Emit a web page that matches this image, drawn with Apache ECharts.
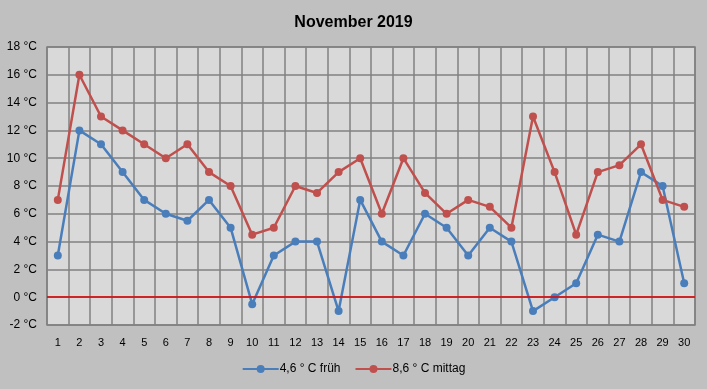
<!DOCTYPE html>
<html><head><meta charset="utf-8">
<script src="https://cdn.jsdelivr.net/npm/echarts@6/dist/echarts.min.js"></script>
<style>html,body{margin:0;padding:0;background:#c0c0c0;}#c{width:707px;height:389px;}</style>
</head><body><div id="c"></div>
<script>
var days = ['1','2','3','4','5','6','7','8','9','10','11','12','13','14','15','16','17','18','19','20','21','22','23','24','25','26','27','28','29','30'];
var frueh = [3,12,11,9,7,6,5.5,7,5,-0.5,3,4,4,-1,7,4,3,6,5,3,5,4,-1,0,1,4.5,4,9,8,1];
var mittag = [7,16,13,12,11,10,11,9,8,4.5,5,8,7.5,9,10,6,10,7.5,6,7,6.5,5,13,9,4.5,9,9.5,11,7,6.5];
var seriesNames = ['4,6 ° C früh', '8,6 ° C mittag'];
var title = 'November 2019';

var font = 'Liberation Sans, Arial, sans-serif';
var chart = echarts.init(document.getElementById('c'));
chart.setOption({
  backgroundColor: '#c0c0c0',
  animation: false,
  title: {text: title, left: 'center', top: 10, textStyle: {fontFamily: font, fontSize: 16, fontWeight: 'bold', color: '#000'}},
  legend: {bottom: 9, left: 'center', itemWidth: 36, itemHeight: 10, itemGap: 14,
    textStyle: {fontFamily: font, fontSize: 12, color: '#000', padding: [0,0,0,-4]},
    data: seriesNames},
  grid: {left: 47, right: 12, top: 47, bottom: 64, show: true, backgroundColor: '#d9d9d9', borderColor: '#808080', borderWidth: 1.5},
  xAxis: {type: 'category', data: days, boundaryGap: true,
    axisLine: {show: false}, axisTick: {show: false},
    axisLabel: {interval: 0, fontFamily: font, fontSize: 11, color: '#000', margin: 12},
    splitLine: {show: true, interval: 0, lineStyle: {color: '#808080', width: 1.5}}},
  yAxis: {type: 'value', min: -2, max: 18, interval: 2,
    axisLine: {show: false}, axisTick: {show: false},
    axisLabel: {fontFamily: font, fontSize: 12, color: '#000', margin: 10, formatter: function(v){return v + ' °C';}},
    splitLine: {show: true, lineStyle: {color: '#808080', width: 1.5}}},
  series: [
    {name: seriesNames[0], type: 'line', data: frueh, symbol: 'circle', symbolSize: 8,
      itemStyle: {color: '#4a7ebb'}, lineStyle: {color: '#4a7ebb', width: 2.5},
      markLine: {silent: true, symbol: 'none', label: {show: false}, lineStyle: {color: '#e00000', type: 'solid', width: 1.5}, data: [{yAxis: 0}]}},
    {name: seriesNames[1], type: 'line', data: mittag, symbol: 'circle', symbolSize: 8,
      itemStyle: {color: '#c0504d'}, lineStyle: {color: '#c0504d', width: 2.5}}
  ]
});
</script></body></html>
